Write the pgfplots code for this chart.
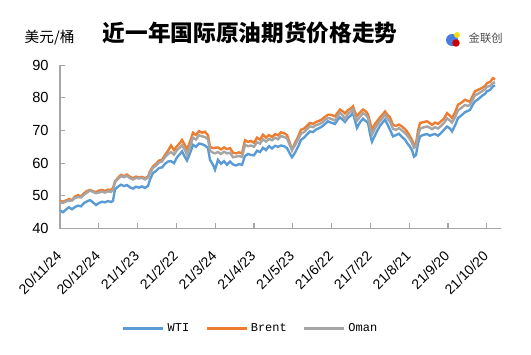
\documentclass[border=0pt]{standalone}
\usepackage{pgfplots}
\pgfplotsset{compat=1.18}
\usepackage{pgfplotstable}
\usepackage{fontspec}
\setmainfont{Liberation Sans}
\newfontfamily\cjk{Noto Sans CJK SC}
\newfontfamily\mono{Liberation Mono}
\definecolor{wti}{HTML}{5B9BD5}
\definecolor{brent}{HTML}{ED7D31}
\definecolor{oman}{HTML}{A5A5A5}
\definecolor{axgray}{HTML}{A6A6A6}

% p = horizontal position (chart units, 38.8 per month tick), b = Brent, w = WTI, o = Oman
\pgfplotstableread{
p b w o
60 48.5 45.5 48.0
63 48.2 45.0 47.8
66 48.6 45.8 48.3
69 49.0 46.5 48.5
72 48.7 45.9 48.6
75 49.8 46.6 49.4
78 50.2 47.0 49.6
81 49.8 46.8 49.5
84 50.8 47.8 50.3
87 51.5 48.3 51.0
90 51.8 48.7 51.6
93 51.4 48.0 51.2
96 51.2 47.2 50.8
99 51.6 47.8 51.0
102 51.8 48.2 51.3
105 51.5 48.0 51.0
108 51.9 48.4 51.4
111 51.8 48.1 51.2
113 52.4 48.5 51.8
115 54.4 52.0 54.2
118 55.5 52.8 55.2
121 56.4 53.4 56.0
124 56.0 53.0 55.7
127 56.5 53.3 56.1
130 55.8 52.6 55.4
133 55.4 52.2 55.0
136 55.9 52.8 55.5
139 55.6 52.5 55.3
142 55.8 52.9 55.5
145 55.4 52.4 55.0
148 55.9 53.0 55.6
150 57.5 55.0 57.0
153 59.0 57.0 58.6
156 59.8 57.6 59.2
159 60.8 58.5 60.2
162 61.0 58.7 60.5
165 62.5 59.8 61.8
168 63.8 60.5 62.8
171 65.4 60.6 63.4
174 64.0 60.0 62.6
177 65.2 61.8 64.0
180 66.2 62.8 64.8
182 67.1 63.6 65.5
185 65.5 61.8 64.0
187 64.2 60.8 62.5
190 66.5 63.0 65.2
193 69.3 65.6 67.8
196 68.6 65.0 67.2
199 69.8 66.0 68.5
202 69.3 65.8 68.2
205 69.6 65.4 68.0
208 68.5 64.6 67.3
210 65.0 61.0 63.8
213 64.6 59.5 63.2
215 64.7 58.0 63.0
218 64.8 61.0 63.4
221 64.2 59.8 62.8
224 64.8 60.6 63.5
227 64.3 59.5 63.0
230 64.6 60.5 63.2
233 63.2 59.6 61.8
236 63.0 59.3 62.0
239 63.3 59.7 62.2
242 63.0 59.5 61.9
245 67.0 62.2 65.6
248 66.5 62.8 65.2
251 66.8 62.5 65.4
254 66.2 62.4 65.0
257 67.8 63.8 66.4
260 67.2 63.4 66.0
263 68.7 64.7 67.3
266 67.8 64.0 66.6
269 68.6 65.2 67.4
272 68.0 64.5 67.0
275 68.9 65.3 67.8
278 68.5 65.0 67.3
281 69.4 65.4 68.3
284 69.2 65.2 68.0
287 68.6 64.6 67.6
290 66.0 62.8 65.4
292 64.0 61.8 64.0
295 66.2 63.2 65.5
298 68.0 65.0 67.2
301 70.2 67.1 69.0
304 70.6 67.8 69.5
307 71.4 68.8 70.4
310 72.3 69.7 71.3
313 72.0 69.5 71.0
316 72.6 70.3 71.6
319 72.9 70.7 71.9
322 73.4 71.2 72.4
325 74.2 72.0 73.2
328 74.8 72.8 73.8
331 74.8 72.4 73.6
335 74.3 72.0 73.0
338 75.6 73.4 74.6
340 76.4 74.0 75.4
343 75.8 73.2 74.5
345 75.2 72.6 73.4
348 76.2 73.9 75.1
351 76.8 74.6 75.8
353 77.4 75.4 76.5
355 75.6 73.0 74.3
357 74.4 70.8 73.0
360 75.5 72.5 74.2
363 76.4 73.6 75.3
366 75.8 72.8 74.7
368 74.9 72.4 73.8
370 72.5 69.0 71.0
372 70.2 66.6 68.8
375 72.0 68.5 70.6
377 72.8 69.8 71.6
380 74.0 71.4 72.9
383 75.0 72.6 74.0
385 75.8 73.3 74.8
388 74.6 71.5 73.4
390 74.0 70.2 72.6
393 71.7 68.2 70.5
396 71.4 68.6 70.2
399 71.8 69.0 70.7
402 71.2 68.0 70.0
405 70.4 67.2 69.2
407 69.7 66.2 68.5
410 68.2 65.0 67.3
412 67.1 64.0 66.2
414 65.6 62.0 64.7
416 66.0 62.5 65.0
418 69.8 66.0 68.3
420 72.3 68.2 70.5
423 72.5 68.6 70.9
427 72.8 68.9 71.2
430 72.2 68.4 70.8
432 71.7 68.7 70.4
435 72.4 68.9 71.0
438 72.0 68.4 70.6
441 72.8 69.2 71.4
444 73.6 70.2 72.3
447 75.3 71.2 73.7
450 74.5 70.6 73.0
452 73.8 69.7 72.4
455 75.5 71.5 74.0
458 77.9 73.8 76.2
461 78.4 74.5 76.8
465 79.4 75.6 77.8
468 79.0 76.0 77.5
470 78.8 76.3 77.9
473 80.8 78.0 79.6
475 82.0 78.9 80.8
478 82.4 79.5 81.2
482 83.0 80.6 82.0
485 83.6 81.2 82.6
487 84.5 82.0 83.4
490 84.8 82.4 83.6
493 86.0 83.5 84.5
495 85.6 83.8 84.8
}\oil

\begin{document}
\begin{tikzpicture}
\path[use as bounding box] (0,0) rectangle (398.25pt,265.5pt);
\begin{axis}[
  at={(45pt,94.1pt)}, anchor=south west,
  scale only axis, width=330.75pt, height=122.6pt,
  xmin=60, xmax=501, ymin=40, ymax=90,
  axis x line*=bottom, axis y line*=left,
  axis line style={axgray, line width=0.8pt, -},
  xtick={60,98.8,137.6,176.4,215.2,254,292.8,331.6,370.4,409.2,448,486.8},
  xticklabels={20/11/24,20/12/24,21/1/23,21/2/22,21/3/24,21/4/23,21/5/23,21/6/22,21/7/22,21/8/21,21/9/20,21/10/20},
  ytick={40,50,60,70,80,90},
  tick align=inside, major tick length=4pt,
  tick style={axgray, line width=0.8pt},
  /pgf/number format/assume math mode=true,
  ticklabel style={font=\fontsize{11}{12}\selectfont, text=black},
  yticklabel style={xshift=-5pt},
  xticklabel style={rotate=45, anchor=east, inner sep=1pt, font=\fontsize{10.5}{12}\selectfont},
  xticklabel shift=18pt,
  legend style={at={(0.433,-0.609)}, anchor=center, draw=none, fill=none,
    legend columns=3, font=\mono\fontsize{9}{10}\selectfont,
    /tikz/every even column/.append style={column sep=10pt}},
  legend image code/.code={\draw[#1, line width=2.2pt] (0pt,0pt) -- (30pt,0pt);},
  clip=false,
]
\addplot[wti, line width=1.8pt] table[x=p, y=w] {\oil};
\addlegendentry{WTI}
\addplot[brent, line width=1.8pt] table[x=p, y=b] {\oil};
\addlegendentry{Brent}
\addplot[oman, line width=1.8pt] table[x=p, y=o] {\oil};
\addlegendentry{Oman}
\end{axis}
\node[font=\cjk\fontsize{11}{12}\selectfont, anchor=west] at (15pt,{(354-38)*0.75pt}) {美元/桶};
\node[font=\cjk\bfseries\fontsize{17}{18}\selectfont] at ({250*0.75pt},{(354-33)*0.75pt}) {近一年国际原油期货价格走势};
\fill[wti!80!blue] ({452*0.75pt},{(354-40)*0.75pt}) circle (4.5pt);
\fill[red!80!black] ({456*0.75pt},{(354-43)*0.75pt}) circle (2.8pt);
\fill[yellow!80!orange] ({457*0.75pt},{(354-35)*0.75pt}) circle (2.2pt);
\node[font=\cjk\fontsize{8.5}{9}\selectfont, text=black!70, anchor=west] at ({464*0.75pt},{(354-38)*0.75pt}) {金联创};
\end{tikzpicture}
\end{document}
